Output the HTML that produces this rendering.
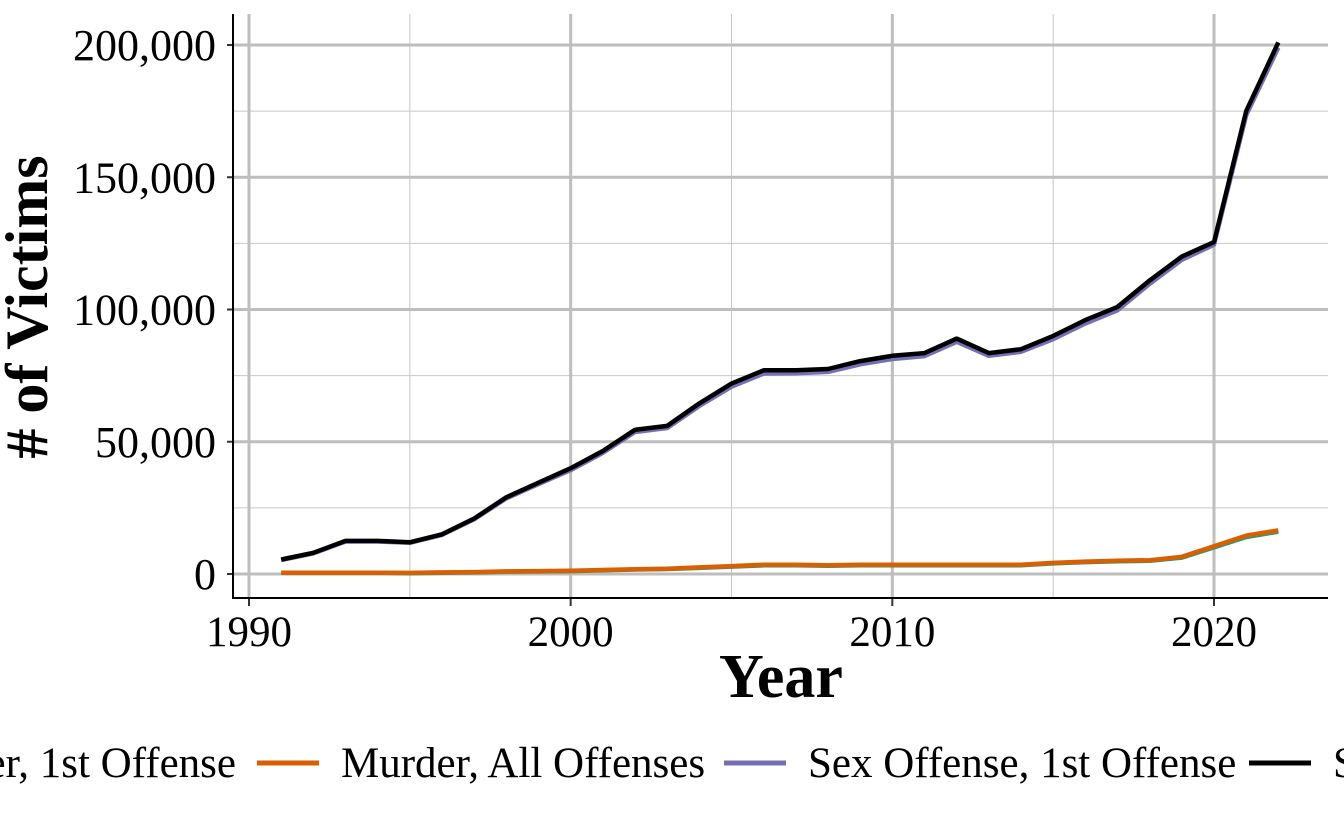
<!DOCTYPE html>
<html><head><meta charset="utf-8"><style>
body{margin:0;background:#fff;width:1344px;height:830px;overflow:hidden}
text{font-family:"Liberation Serif",serif}
</style></head><body>
<svg id="chart" width="1344" height="830"></svg>
<script>
const years=[1991,1992,1993,1994,1995,1996,1997,1998,1999,2000,2001,2002,2003,2004,2005,2006,2007,2008,2009,2010,2011,2012,2013,2014,2015,2016,2017,2018,2019,2020,2021,2022];
const sexAll=[5500,8000,12500,12500,12000,15000,21000,29000,34500,40000,46500,54500,56000,64500,72000,77000,77000,77500,80500,82500,83500,89000,83500,85000,90000,96000,101000,111000,120000,125500,175000,201000];
const sexFirst=[5300,7800,12300,12300,11800,14800,20700,28600,34000,39300,45800,53700,55200,63500,70800,75800,75900,76400,79300,81300,82400,87800,82500,84000,88800,94700,99700,109700,118800,124500,173500,199000];
const murderAll=[500,500,500,500,400,600,700,1000,1100,1200,1500,1800,2000,2500,3000,3500,3500,3300,3500,3500,3500,3500,3500,3500,4200,4700,5000,5200,6500,10500,14500,16500];
const murderFirst=[400,400,400,400,300,500,600,900,1000,1100,1400,1700,1900,2300,2800,3300,3300,3100,3300,3300,3300,3300,3300,3300,4000,4500,4800,5000,6200,10100,14000,16000];
const yTicks=[0,50000,100000,150000,200000];
const yLabels=["0","50,000","100,000","150,000","200,000"];
const xTicks=[1990,2000,2010,2020];
const NS="http://www.w3.org/2000/svg";
const svg=document.getElementById('chart');
const X=v=>249+(v-1990)*(1214-249)/30;
const Y=v=>574-v*(574-45)/200000;
function mk(t,a,p){const e=document.createElementNS(NS,t);for(const k in a)e.setAttribute(k,a[k]);(p||svg).appendChild(e);return e;}
const L=233,R=1328,T=14,B=598;
for(let i=0;i<yTicks.length-1;i++){const g=mk('line',{x1:L,x2:R,y1:Y((yTicks[i]+yTicks[i+1])/2),y2:Y((yTicks[i]+yTicks[i+1])/2),stroke:'#c8c8c8','stroke-width':1});

}
for(let i=0;i<xTicks.length;i++){const g=mk('line',{x1:X(xTicks[i]+5),x2:X(xTicks[i]+5),y1:T,y2:B,stroke:'#c8c8c8','stroke-width':1});

}
yTicks.forEach((v,i)=>{
const g=mk('line',{x1:L,x2:R,y1:Y(v),y2:Y(v),stroke:'#bebebe','stroke-width':3});


mk('line',{x1:L-6,x2:L,y1:Y(v),y2:Y(v),stroke:'#333','stroke-width':2});
const t=mk('text',{x:L-17,y:Y(v)+15,'text-anchor':'end','font-size':44});t.textContent=yLabels[i];


});
xTicks.forEach(v=>{
const g=mk('line',{x1:X(v),x2:X(v),y1:T,y2:B,stroke:'#bebebe','stroke-width':3});


mk('line',{x1:X(v),x2:X(v),y1:B,y2:B+8,stroke:'#333','stroke-width':2});
const t=mk('text',{x:X(v),y:646,'text-anchor':'middle','font-size':43});t.textContent=v;


});
mk('path',{d:`M${L},${T}V${B}H${R}`,fill:'none',stroke:'#000','stroke-width':2});
function line(vals,color,name){const d=vals.map((v,i)=>(i?'L':'M')+X(years[i]).toFixed(1)+','+Y(v).toFixed(1)).join('');
const p=mk('path',{d:d,fill:'none',stroke:color,'stroke-width':4.5,'stroke-linejoin':'round'});

}
line(murderFirst,'#1b9e77','line-murder-1st-offense');
line(murderAll,'#d95f02','line-murder-all-offenses');
line(sexFirst,'#7570b3','line-sex-offense-1st-offense');
line(sexAll,'#000000','line-sex-offense-all-offenses');
const yt=mk('text',{x:0,y:0,transform:'translate(47,307) rotate(-90)','text-anchor':'middle','font-size':60,'font-weight':'bold'});yt.textContent='# of Victims';


const xt=mk('text',{x:781,y:697,'text-anchor':'middle','font-size':62,'font-weight':'bold'});xt.textContent='Year';


const leg=[["Murder, 1st Offense",'#1b9e77',236,'end'],["Murder, All Offenses",'#d95f02',257,'start'],["Sex Offense, 1st Offense",'#7570b3',724,'start'],["Sex Offense, All Offenses",'#000000',1249,'start']];
leg.forEach(l=>{
const g=mk('g',{});


if(l[3]==='start'){
mk('line',{x1:l[2],x2:l[2]+62,y1:763,y2:763,stroke:l[1],'stroke-width':5},g);
const t=mk('text',{x:l[2]+84,y:777,'font-size':43},g);t.textContent=l[0];
}else{
const t=mk('text',{x:l[2],y:777,'font-size':43,'text-anchor':'end'},g);t.textContent=l[0];
}
});
</script>
</body></html>
